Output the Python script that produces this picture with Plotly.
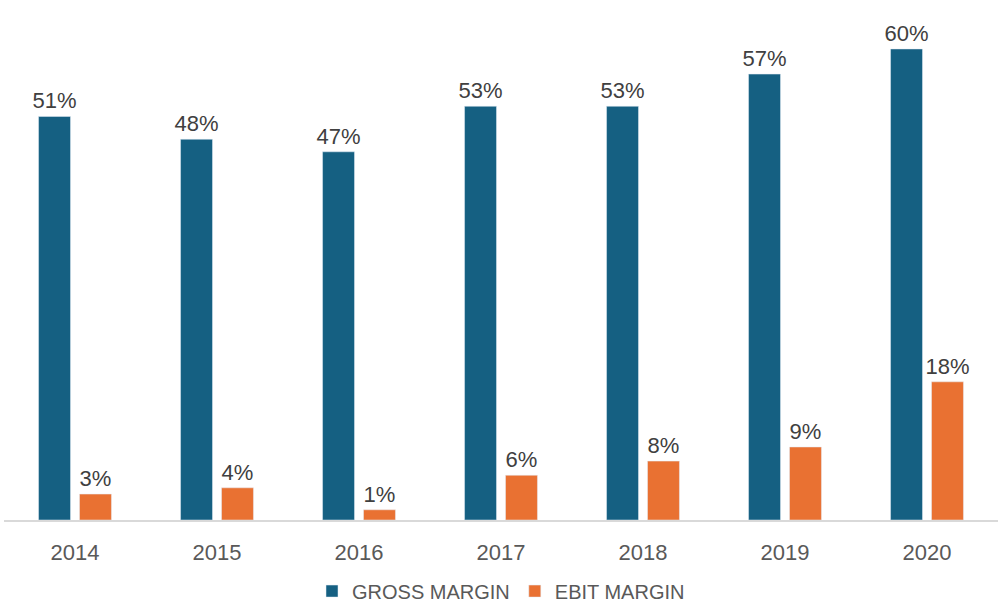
import plotly.graph_objects as go

years = ["2014", "2015", "2016", "2017", "2018", "2019", "2020"]
gross_margin = [0.514, 0.485, 0.469, 0.527, 0.527, 0.568, 0.600]
ebit_margin = [0.033, 0.041, 0.013, 0.057, 0.075, 0.093, 0.176]
gross_labels = ["51%", "48%", "47%", "53%", "53%", "57%", "60%"]
ebit_labels = ["3%", "4%", "1%", "6%", "8%", "9%", "18%"]

FONT = "Liberation Sans"

fig = go.Figure()
fig.add_trace(go.Bar(
    x=years, y=gross_margin, name="GROSS MARGIN",
    marker_color="#156082", text=gross_labels, textposition="outside",
    constraintext="none",
    textfont=dict(size=22, color="#404040", family=FONT), cliponaxis=False,
    hoverinfo="skip",
))
fig.add_trace(go.Bar(
    x=years, y=ebit_margin, name="EBIT MARGIN",
    marker_color="#E97132", text=ebit_labels, textposition="outside",
    constraintext="none",
    textfont=dict(size=22, color="#404040", family=FONT), cliponaxis=False,
    hoverinfo="skip",
))

fig.update_layout(
    width=1002, height=610,
    margin=dict(l=4, r=4, t=5, b=90, autoexpand=False),
    paper_bgcolor="white", plot_bgcolor="white",
    barmode="group", bargap=0.423, bargroupgap=0.22,
    font=dict(family=FONT, color="#595959", size=20),
    showlegend=True,
    legend=dict(orientation="h", x=0.5, xanchor="center", y=-0.138, yanchor="middle",
                font=dict(size=20, color="#595959", family=FONT), traceorder="normal",
                itemwidth=30),
)
fig.update_xaxes(showline=True, linecolor="#d9d9d9", linewidth=1.5, showgrid=False,
                 automargin=False, ticks="", tickfont=dict(size=22, color="#595959"),
                 ticklabelstandoff=12)
fig.update_yaxes(range=[0, 0.656], visible=False, showgrid=False, zeroline=False,
                 automargin=False)

fig.write_html("out.html", config={"displayModeBar": False},
               post_script="document.body.style.margin='0';")
